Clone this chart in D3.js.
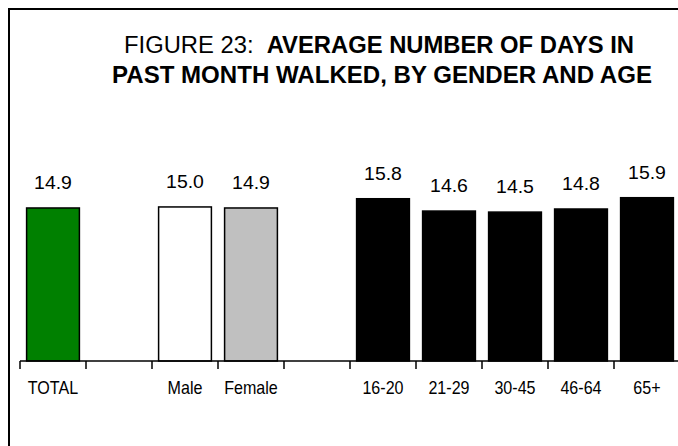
<!DOCTYPE html>
<html>
<head>
<meta charset="utf-8">
<script src="https://cdn.jsdelivr.net/npm/d3@7"></script>
<style>
  html, body { margin: 0; padding: 0; background: #fff; }
  svg { display: block; }
  text { font-family: "Liberation Sans", Arial, sans-serif; fill: #000; }
</style>
</head>
<body>
<svg id="chart" width="678" height="446"></svg>
<script>
// ---- data ----
const categories = ["TOTAL", "", "Male", "Female", "", "16-20", "21-29", "30-45", "46-64", "65+"];
const values = [14.9, null, 15.0, 14.9, null, 15.8, 14.6, 14.5, 14.8, 15.9];
const groups = ["total", null, "male", "female", null, "age", "age", "age", "age", "age"];
const titlePrefix = "FIGURE 23:\u00a0\u00a0";
const titleLine1 = "AVERAGE NUMBER OF DAYS IN";
const titleLine2 = "PAST MONTH WALKED, BY GENDER AND AGE";

// ---- styles ----
const fillFor = { total: "#008000", male: "#ffffff", female: "#c0c0c0", age: "#000000" };

const svg = d3.select("#chart");

// frame
svg.append("rect")
  .attr("x", 9).attr("y", 9).attr("width", 700).attr("height", 470)
  .attr("fill", "none").attr("stroke", "#000").attr("stroke-width", 2);

// title
const t1 = svg.append("text").attr("x", 379).attr("y", 53)
  .attr("text-anchor", "middle").style("font-size", "23px")
  .attr("textLength", 510).attr("lengthAdjust", "spacingAndGlyphs");
t1.append("tspan").text(titlePrefix);
t1.append("tspan").text(titleLine1).style("font-weight", "bold");
svg.append("text").attr("x", 382).attr("y", 83)
  .attr("text-anchor", "middle").style("font-size", "23px").style("font-weight", "bold")
  .attr("textLength", 540).attr("lengthAdjust", "spacingAndGlyphs")
  .text(titleLine2);

// scales
const idx = d3.range(categories.length);
const x = d3.scaleBand().domain(idx).range([20, 680]).paddingInner(0.2).paddingOuter(0.1);
const baseY = 361;
const y = d3.scaleLinear().domain([0, 20]).range([baseY, baseY - 205.4]);

const data = idx.map(i => ({ i, cat: categories[i], v: values[i], g: groups[i] }));
const barData = data.filter(d => d.v != null);

// bars
svg.append("g").selectAll("rect").data(barData).join("rect")
  .attr("x", d => x(d.i))
  .attr("y", d => y(d.v))
  .attr("width", x.bandwidth())
  .attr("height", d => y(0) - y(d.v))
  .attr("fill", d => fillFor[d.g])
  .attr("stroke", "#000")
  .attr("stroke-width", 1.5);

// value labels
svg.append("g").selectAll("text").data(barData).join("text")
  .attr("transform", d => `translate(${x(d.i) + x.bandwidth() / 2},${y(d.v) - 19}) scale(1.08,1)`)
  .attr("text-anchor", "middle")
  .style("font-size", "18px")
  .text(d => d3.format(".1f")(d.v));

// axis line & ticks at slot boundaries
const step = x.step();
const start = x.range()[0];
const ax = svg.append("g");
ax.append("line").attr("x1", start).attr("x2", x.range()[1])
  .attr("y1", baseY).attr("y2", baseY).attr("stroke", "#000").attr("stroke-width", 1.5);
ax.selectAll("line.tick").data(d3.range(categories.length + 1)).join("line")
  .attr("class", "tick")
  .attr("x1", k => start + k * step).attr("x2", k => start + k * step)
  .attr("y1", baseY).attr("y2", baseY + 8)
  .attr("stroke", "#000").attr("stroke-width", 1.5);

// category labels
svg.append("g").selectAll("text").data(data.filter(d => d.cat !== "")).join("text")
  .attr("transform", d => `translate(${x(d.i) + x.bandwidth() / 2},394) scale(0.92,1)`)
  .attr("text-anchor", "middle")
  .style("font-size", "17.5px")
  .text(d => d.cat);
</script>
</body>
</html>
